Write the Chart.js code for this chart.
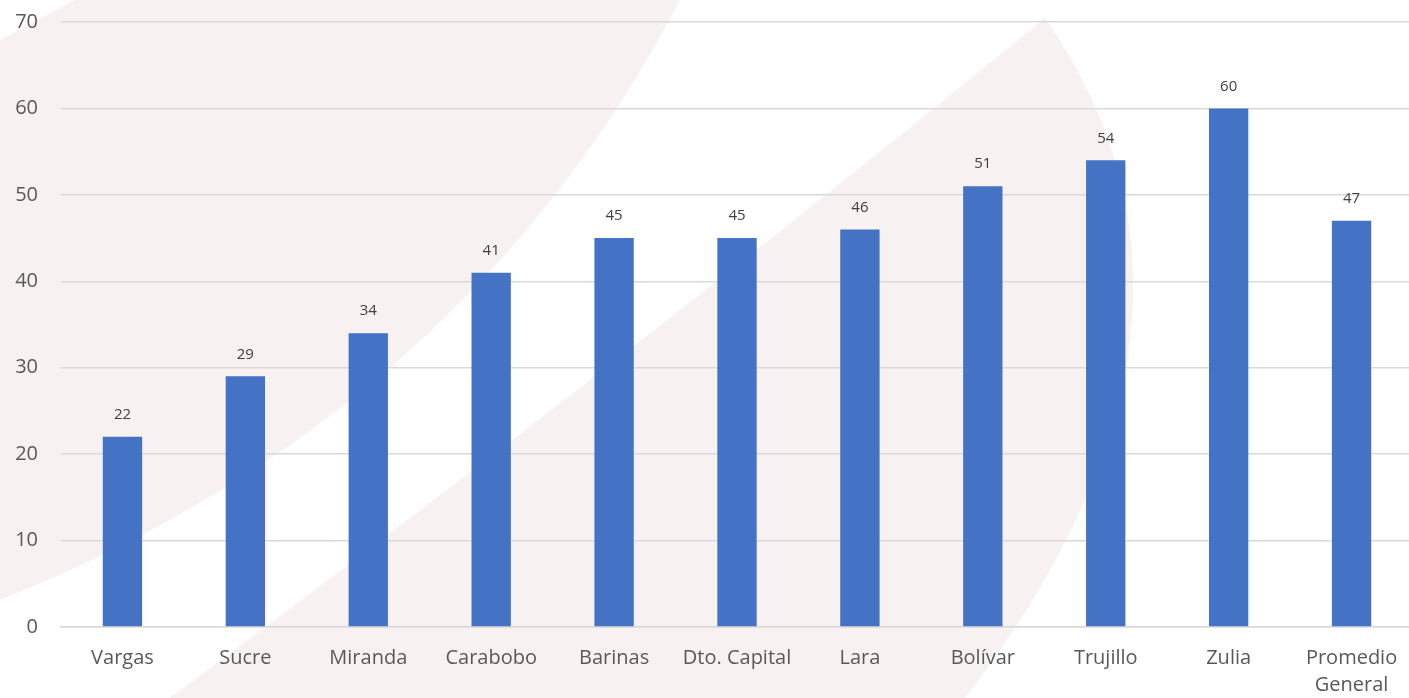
<!DOCTYPE html>
<html>
<head>
<meta charset="utf-8">
<title>Bar chart</title>
<script src="https://cdn.jsdelivr.net/npm/chart.js@4/dist/chart.umd.min.js"></script>
<style>
  html, body { margin: 0; padding: 0; background: #ffffff; overflow: hidden; }
  #wrap { width: 1409px; height: 698px; overflow: hidden; }
</style>
</head>
<body>
<div id="wrap"><canvas id="chart" width="1413" height="698"></canvas></div>
<script>
// Categories and values
const categories = [
  'Vargas', 'Sucre', 'Miranda', 'Carabobo', 'Barinas', 'Dto. Capital',
  'Lara', 'Bolívar', 'Trujillo', 'Zulia', ['Promedio', 'General']
];
const values = [22, 29, 34, 41, 45, 45, 46, 51, 54, 60, 47];
const yTicks = [0, 10, 20, 30, 40, 50, 60, 70];

const FONT = '"Open Sans", "Liberation Sans", sans-serif';

// Faint pink swoosh decoration behind the chart
const backdrop = {
  id: 'backdrop',
  beforeDraw(chart) {
    const { ctx, width: w, height: h } = chart;
    ctx.save();
    ctx.fillStyle = '#ffffff';
    ctx.fillRect(0, 0, w, h);
    ctx.fillStyle = '#f7f1f2';
    // upper-left sweep
    ctx.beginPath();
    ctx.moveTo(75, 0);
    ctx.lineTo(680, 0);
    ctx.quadraticCurveTo(464, 414, 0, 600);
    ctx.lineTo(0, 40);
    ctx.closePath();
    ctx.fill();
    // petal in the middle
    ctx.beginPath();
    ctx.moveTo(170, h);
    ctx.quadraticCurveTo(640, 350, 1045, 18);
    ctx.quadraticCurveTo(1255, 320, 965, h);
    ctx.closePath();
    ctx.fill();
    ctx.restore();
  }
};

// Value labels above each bar
const valueLabels = {
  id: 'valueLabels',
  afterDatasetsDraw(chart) {
    const { ctx } = chart;
    const meta = chart.getDatasetMeta(0);
    ctx.save();
    ctx.font = '15px ' + FONT;
    ctx.fillStyle = '#404040';
    ctx.textAlign = 'center';
    ctx.textBaseline = 'middle';
    meta.data.forEach((bar, i) => {
      ctx.fillText(String(values[i]), bar.x, bar.y - 22);
    });
    ctx.restore();
  }
};

new Chart(document.getElementById('chart'), {
  type: 'bar',
  data: {
    labels: categories,
    datasets: [{
      data: values,
      backgroundColor: '#4472c4',
      borderWidth: 0,
      barPercentage: 0.32,
      categoryPercentage: 1.0
    }]
  },
  options: {
    responsive: false,
    animation: false,
    layout: { padding: { top: 22, right: 0, bottom: 0, left: 0 } },
    plugins: {
      legend: { display: false },
      tooltip: { enabled: false }
    },
    scales: {
      x: {
        grid: { display: false, drawTicks: false },
        border: { display: true, color: '#d9d9d9', width: 1.5 },
        ticks: {
          color: '#595959',
          font: { family: FONT, size: 20, lineHeight: 1.35 },
          padding: 18,
          maxRotation: 0,
          autoSkip: false
        },
        afterFit(s) {
          s.height = 71;
          s.paddingLeft = 0;
          s.paddingRight = 0;
        }
      },
      y: {
        min: 0,
        max: 70,
        afterBuildTicks(s) { s.ticks = yTicks.map(v => ({ value: v })); },
        grid: { color: '#d9d9d9', lineWidth: 1.5, drawTicks: false },
        border: { display: false },
        ticks: {
          color: '#595959',
          font: { family: FONT, size: 20 },
          padding: 23
        },
        afterFit(s) {
          s.width = 61;
          s.paddingTop = 0;
          s.paddingBottom = 0;
        }
      }
    }
  },
  plugins: [backdrop, valueLabels]
});
</script>
</body>
</html>
